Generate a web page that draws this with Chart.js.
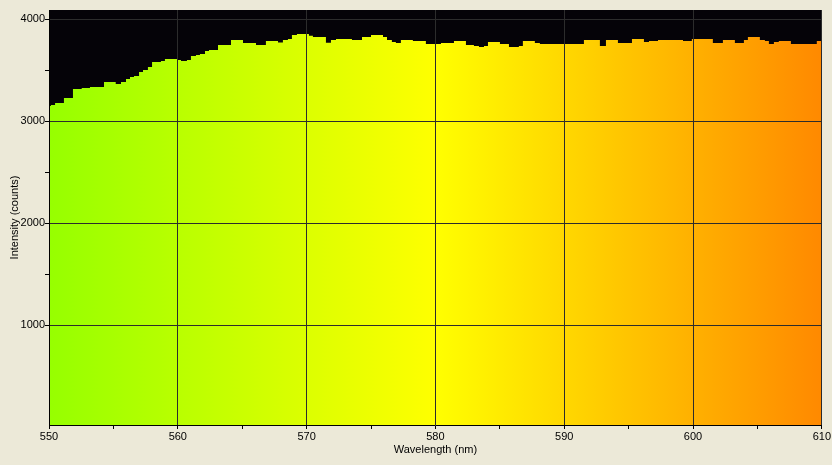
<!DOCTYPE html>
<html>
<head>
<meta charset="utf-8">
<script src="https://cdn.jsdelivr.net/npm/chart.js@4.4.1/dist/chart.umd.min.js"></script>
<style>
  html, body { margin: 0; padding: 0; background: #ECE9D8; }
  #chart-spectrum { display: block; background: #ECE9D8; }
</style>
</head>
<body>
<canvas id="chart-spectrum" width="832" height="465"></canvas>
<script>
// wavelength (nm) where each step of the spectrum starts
const wavelengths = [
    550.00, 550.15, 550.47, 551.16, 551.86, 552.54, 553.18, 554.27, 555.18, 555.59,
    555.98, 556.29, 556.60, 556.99, 557.30, 557.68, 558.00, 558.69, 559.00, 560.00,
    560.25, 560.71, 561.02, 561.41, 561.72, 562.11, 562.42, 563.12, 564.13, 565.06,
    566.07, 566.84, 567.78, 568.16, 568.55, 568.86, 569.25, 570.18, 570.49, 571.50,
    571.89, 572.28, 573.52, 574.30, 575.00, 575.93, 576.24, 576.62, 576.93, 577.32,
    578.25, 579.26, 580.43, 581.44, 582.37, 582.99, 583.38, 583.77, 584.08, 585.01,
    585.71, 586.48, 586.79, 587.72, 588.11, 591.53, 592.77, 593.24, 594.17, 595.26,
    596.19, 596.58, 597.28, 599.22, 599.91, 601.54, 602.32, 603.25, 603.95, 604.26,
    605.19, 605.58, 605.89, 606.28, 606.66, 607.60, 609.61, 610.00
];
// intensity (counts) of each step
const counts = [
    3150, 3160, 3180, 3228, 3317, 3327, 3337, 3385, 3366, 3385,
    3415, 3434, 3444, 3483, 3503, 3532, 3581, 3591, 3611, 3601,
    3591, 3601, 3640, 3650, 3660, 3689, 3699, 3748, 3797, 3768,
    3748, 3787, 3772, 3797, 3807, 3846, 3856, 3839, 3826, 3771,
    3797, 3807, 3797, 3826, 3846, 3826, 3797, 3777, 3768, 3797,
    3787, 3758, 3768, 3787, 3748, 3738, 3728, 3738, 3777, 3758,
    3728, 3738, 3787, 3768, 3758, 3797, 3738, 3797, 3768, 3807,
    3777, 3787, 3797, 3787, 3807, 3768, 3797, 3768, 3797, 3826,
    3797, 3787, 3758, 3777, 3787, 3758, 3787, 3787
];
const xTicks = [550, 555, 560, 565, 570, 575, 580, 585, 590, 595, 600, 605, 610];
const yTicks = [1000, 1500, 2000, 2500, 3000, 3500, 4000];

const fontSpec = { family: "'Liberation Sans', Arial, sans-serif", size: 11 };

// 黒いプロット背景
const plotBackground = {
    id: 'plotBackground',
    beforeDraw(chart) {
        const a = chart.chartArea;
        const ctx = chart.ctx;
        ctx.save();
        ctx.fillStyle = '#050308';
        ctx.fillRect(a.left, a.top, a.right - a.left, a.bottom - a.top);
        ctx.restore();
    }
};

// spectrum colours along the wavelength axis
function spectrumFill(context) {
    const chart = context.chart;
    const area = chart.chartArea;
    if (!area) {
        return '#ffff00';
    }
    const xs = chart.scales.x;
    const x0 = xs.getPixelForValue(550);
    const x1 = xs.getPixelForValue(610);
    const g = chart.ctx.createLinearGradient(x0, 0, x1, 0);
    g.addColorStop(0, 'rgb(150, 255, 0)');
    g.addColorStop(0.5, 'rgb(255, 255, 0)');
    g.addColorStop(1, 'rgb(255, 137, 0)');
    return g;
}

const points = wavelengths.map(function (w, i) {
    return { x: w, y: counts[i] };
});

const ctx = document.getElementById('chart-spectrum').getContext('2d');
const chart = new Chart(ctx, {
    type: 'line',
    data: {
        datasets: [{
            data: points,
            stepped: 'before',
            borderWidth: 0,
            borderColor: 'rgba(0,0,0,0)',
            backgroundColor: spectrumFill,
            fill: 'start',
            pointRadius: 0
        }]
    },
    options: {
        responsive: false,
        animation: false,
        layout: { padding: { top: 10, right: 10, left: 0, bottom: 0 } },
        plugins: {
            legend: { display: false },
            tooltip: { enabled: false }
        },
        scales: {
            x: {
                type: 'linear',
                min: 550,
                max: 610,
                afterBuildTicks: function (scale) {
                    scale.ticks = xTicks.map(function (v) { return { value: v }; });
                },
                afterFit: function (scale) {
                    scale.height = 40;
                },
                ticks: {
                    color: '#000',
                    font: fontSpec,
                    padding: 1,
                    maxRotation: 0,
                    autoSkip: false,
                    z: 2,
                    callback: function (value) {
                        return value % 10 === 0 ? value : '';
                    }
                },
                grid: {
                    z: 1,
                    color: function (c) {
                        return (c.tick && c.tick.value % 10 === 0) ? '#2c2c2c' : 'rgba(0,0,0,0)';
                    },
                    tickColor: '#000',
                    tickLength: 4,
                    lineWidth: 1
                },
                border: { color: '#000', width: 1, z: 2 },
                title: {
                    display: true,
                    text: 'Wavelength (nm)',
                    color: '#000',
                    font: fontSpec,
                    padding: { top: 0, bottom: 8 }
                }
            },
            y: {
                min: 23,
                max: 4091,
                afterBuildTicks: function (scale) {
                    scale.ticks = yTicks.map(function (v) { return { value: v }; });
                },
                afterFit: function (scale) {
                    scale.width = 49;
                },
                ticks: {
                    color: '#000',
                    font: fontSpec,
                    padding: 0,
                    autoSkip: false,
                    z: 2,
                    callback: function (value) {
                        return value % 1000 === 0 ? value : '';
                    }
                },
                grid: {
                    z: 1,
                    color: function (c) {
                        return (c.tick && c.tick.value % 1000 === 0) ? '#2c2c2c' : 'rgba(0,0,0,0)';
                    },
                    tickColor: '#000',
                    tickLength: 4,
                    lineWidth: 1
                },
                border: { color: '#000', width: 1, z: 2 },
                title: {
                    display: true,
                    text: 'Intensity (counts)',
                    color: '#000',
                    font: fontSpec,
                    padding: { top: 8, bottom: 0 }
                }
            }
        }
    },
    plugins: [plotBackground]
});
</script>
</body>
</html>
